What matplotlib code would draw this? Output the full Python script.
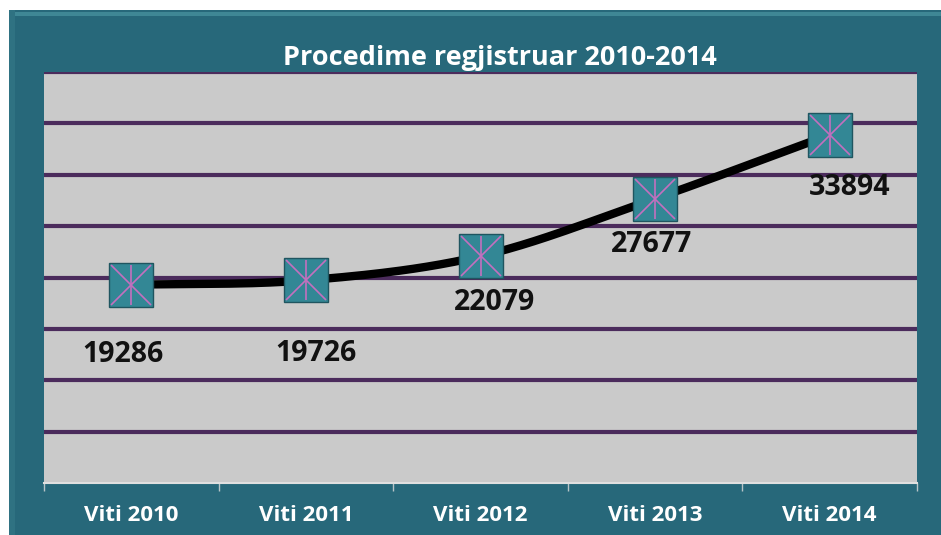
#! usr/bin/env python3

#   import modules
import numpy as np
import matplotlib
matplotlib.use('Agg')
import matplotlib.pyplot as plt
from matplotlib.patches import Rectangle

#   data
years = ['Viti 2010', 'Viti 2011', 'Viti 2012', 'Viti 2013', 'Viti 2014']
cases = [19286, 19726, 22079, 27677, 33894]
title = 'Procedime regjistruar 2010-2014'

#   label nudges in pixels (dx, dy) - excel put them a bit all over the place
label_dx = [-8, 10, 14, -4, 20]
label_dy = [-70, -73, -46, -46, -53]

frame_col = '#27687a'
grid_col = '#4b2b5c'
plot_bg = '#cacaca'


def smooth(x, y, n=40):
    #   catmull-rom through the points, close enough to excel's smoothed line
    x = np.asarray(x, float)
    y = np.asarray(y, float)
    px = np.concatenate([[2 * x[0] - x[1]], x, [2 * x[-1] - x[-2]]])
    py = np.concatenate([[2 * y[0] - y[1]], y, [2 * y[-1] - y[-2]]])
    xs, ys = [], []
    t = np.linspace(0, 1, n)
    for i in range(1, len(px) - 2):
        for p, out in ((px, xs), (py, ys)):
            p0, p1, p2, p3 = p[i - 1], p[i], p[i + 1], p[i + 2]
            seg = 0.5 * ((2 * p1) + (-p0 + p2) * t + (2 * p0 - 5 * p1 + 4 * p2 - p3) * t ** 2
                         + (-p0 + 3 * p1 - 3 * p2 + p3) * t ** 3)
            out.extend(seg)
    return np.array(xs), np.array(ys)


W, H = 941, 535
fig = plt.figure(figsize=(W / 100, H / 100), dpi=100, facecolor='white')

#   teal frame behind everything
fig.patches.append(Rectangle((9 / W, 0), 1 - 9 / W, 1 - 10 / H, transform=fig.transFigure,
                             facecolor=frame_col, edgecolor='none', zorder=-10))
fig.patches.append(Rectangle((9 / W, 1 - 16 / H), 1 - 9 / W, 4 / H, transform=fig.transFigure,
                             facecolor='#3f8795', edgecolor='none', zorder=-9))
fig.patches.append(Rectangle((9 / W, 0), 6 / W, 1 - 10 / H, transform=fig.transFigure,
                             facecolor='#2f7282', edgecolor='none', zorder=-9))

ax = fig.add_axes([44 / W, 52 / H, 873 / W, 411 / H])
ax.set_facecolor(plot_bg)

x = np.arange(len(years))
ax.set_xlim(-0.5, len(years) - 0.5)
ax.set_ylim(0, 40000)

#   gridlines every 5000, no y labels
for g in range(5000, 40001, 5000):
    ax.axhline(g, color=grid_col, lw=3, zorder=1)

sx, sy = smooth(x, cases)
ax.plot(sx, sy, color='black', lw=6, solid_capstyle='round', zorder=3)
ax.plot(x, cases, ls='none', marker='s', ms=31, mfc='#338795', mec='#1f5560', mew=1, zorder=4)
ax.plot(x, cases, ls='none', marker='x', ms=29, mec='#c46fbf', mew=1.2, zorder=5)
ax.plot(x, cases, ls='none', marker='|', ms=29, mec='#c46fbf', mew=1.2, zorder=5)

for i, v in enumerate(cases):
    ax.annotate(str(v), xy=(x[i], v), xytext=(label_dx[i] * 0.72, label_dy[i] * 0.72),
                textcoords='offset points', ha='center', va='center',
                fontsize=20.5, fontweight='bold', family='Open Sans', color='#111111', zorder=6)

ax.set_xticks(x)
ax.set_xticklabels(years, color='white', fontsize=16, fontweight='bold', family='Open Sans')
ax.tick_params(axis='x', which='major', length=0, pad=16)
ax.set_xticks(np.arange(-0.5, len(years)), minor=True)
ax.tick_params(axis='x', which='minor', length=6, color='#b8c4c8', width=1)
ax.set_yticks([])

for s in ['left', 'right', 'top']:
    ax.spines[s].set_visible(False)
ax.spines['bottom'].set_color('#e0e0e0')
ax.spines['bottom'].set_linewidth(1.5)

fig.text(500 / W, 1 - 58 / H, title, ha='center', va='center', color='white',
         fontsize=19.5, fontweight='bold', family='Open Sans')

fig.savefig('out.png', dpi=100, facecolor='white')
plt.close()
